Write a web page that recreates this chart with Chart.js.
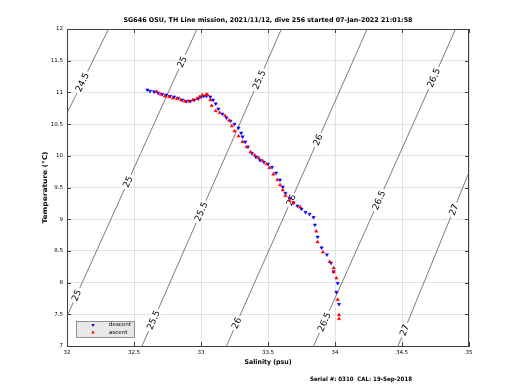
<!DOCTYPE html>
<html><head><meta charset="utf-8">
<script src="https://cdn.jsdelivr.net/npm/chart.js@4.4.0/dist/chart.umd.min.js"></script>
<style>html,body{margin:0;padding:0;background:#fff}#c{display:block}</style>
</head><body>
<canvas id="c" width="520" height="390"></canvas>
<script>
const titleText = "SG646 OSU, TH Line mission, 2021/11/12, dive 256 started 07-Jan-2022 21:01:58";
const xLabel = "Salinity (psu)";
const yLabel = "Temperature (°C)";
const footerText = "Serial #: 0310  CAL: 19-Sep-2018";
const legendLabels = ["descent", "ascent"];
const xTicks = [32, 32.5, 33, 33.5, 34, 34.5, 35];
const yTicks = [7, 7.5, 8, 8.5, 9, 9.5, 10, 10.5, 11, 11.5, 12];

const descentS = [32.60,32.62,32.65,32.68,32.71,32.74,32.77,32.80,32.83,32.86,32.89,32.92,32.95,32.98,33.00,33.02,33.04,33.07,33.09,33.11,33.13,33.16,33.19,33.22,33.25,33.28,33.30,33.31,33.33,33.35,33.38,33.41,33.44,33.47,33.50,33.53,33.56,33.59,33.61,33.63,33.66,33.69,33.72,33.75,33.78,33.81,33.84,33.85,33.87,33.90,33.94,33.97,33.99,34.02,34.01,34.03];
const descentT = [11.04,11.02,11.01,10.99,10.97,10.96,10.94,10.93,10.91,10.88,10.86,10.86,10.88,10.90,10.93,10.94,10.94,10.93,10.88,10.82,10.74,10.66,10.60,10.55,10.50,10.44,10.36,10.30,10.22,10.14,10.04,9.98,9.93,9.90,9.87,9.82,9.73,9.62,9.51,9.41,9.33,9.26,9.21,9.16,9.11,9.08,9.03,8.91,8.72,8.55,8.44,8.31,8.17,7.99,7.85,7.66];

const ascentS = [32.67,32.70,32.73,32.76,32.79,32.82,32.85,32.88,32.91,32.94,32.97,32.99,33.01,33.04,33.05,33.07,33.08,33.11,33.14,33.18,33.21,33.23,33.25,33.28,33.31,33.34,33.37,33.40,33.43,33.46,33.49,33.51,33.54,33.57,33.59,33.61,33.63,33.66,33.69,33.74,33.86,33.87,33.91,33.96,33.99,33.99,34.01,34.02,34.03,34.03];
const ascentT = [11.01,10.97,10.94,10.93,10.91,10.90,10.88,10.86,10.86,10.88,10.90,10.93,10.96,10.97,10.96,10.88,10.79,10.71,10.68,10.63,10.56,10.47,10.39,10.31,10.22,10.14,10.06,10.01,9.97,9.92,9.87,9.81,9.71,9.62,9.54,9.46,9.37,9.30,9.26,9.19,8.81,8.64,8.48,8.33,8.23,8.17,8.07,7.73,7.49,7.43];

const contourLevels = ["24.5", "25", "25.5", "26", "26.5", "27"];
const contourS = [[32.00, 32.31], [32.00, 32.97], [32.56, 33.60], [33.19, 34.24], [33.84, 34.90], [34.47, 35.00]];
const contourT = [[10.67, 12.00], [7.47, 12.00], [7.00, 12.00], [7.00, 12.00], [7.00, 12.00], [7.00, 9.74]];
const contourLabelT = [[11.16], [11.48, 9.59, 7.80], [11.20, 9.12, 7.41], [10.25, 9.30, 7.36], [11.23, 9.30, 7.38], [9.15, 7.25]];

const FONT = "DejaVu Sans";
const zip = (a, b) => a.map((v, i) => ({x: v, y: b[i]}));

const datasets = [
  {label: 'ascent', data: zip(ascentS, ascentT), showLine: false, pointStyle: 'triangle', rotation: 0,
   pointRadius: 1.9, backgroundColor: '#ff0000', borderColor: '#ff0000', borderWidth: 0.5, order: 0},
  {label: 'descent', data: zip(descentS, descentT), showLine: false, pointStyle: 'triangle', rotation: 180,
   pointRadius: 1.9, backgroundColor: '#0000ff', borderColor: '#0000ff', borderWidth: 0.5, order: 1}
];
contourLevels.forEach((lvl, i) => {
  datasets.push({label: 'c' + lvl, data: zip(contourS[i], contourT[i]), showLine: true, pointRadius: 0,
    borderColor: '#444444', borderWidth: 0.7, fill: false, order: 2});
});

function drawContourLabels(chart) {
  const ctx = chart.ctx, xs = chart.scales.x, ys = chart.scales.y;
  ctx.save();
  ctx.font = "9px " + FONT;
  ctx.textAlign = 'center'; ctx.textBaseline = 'middle';
  contourLevels.forEach((lvl, i) => {
    const [s0, s1] = contourS[i], [t0, t1] = contourT[i];
    const px0 = xs.getPixelForValue(s0), py0 = ys.getPixelForValue(t0);
    const px1 = xs.getPixelForValue(s1), py1 = ys.getPixelForValue(t1);
    const ang = Math.atan2(py1 - py0, px1 - px0);
    contourLabelT[i].forEach(t => {
      const s = s0 + (s1 - s0) * (t - t0) / (t1 - t0);
      const px = xs.getPixelForValue(s), py = ys.getPixelForValue(t);
      ctx.save();
      ctx.translate(px, py); ctx.rotate(ang);
      const w = ctx.measureText(lvl).width;
      ctx.fillStyle = '#fff';
      ctx.fillRect(-w / 2 - 2, -4, w + 4, 8);
      ctx.fillStyle = '#000';
      ctx.fillText(lvl, 0, 0.5);
      ctx.restore();
    });
  });
  ctx.restore();
}

function fitText(ctx, text, cx, cy, targetW) {
  const w = ctx.measureText(text).width;
  const sx = targetW / w;
  ctx.save();
  ctx.translate(cx, cy); ctx.scale(sx, 1);
  ctx.fillText(text, 0, 0);
  ctx.restore();
}

function tri(ctx, x, y, r, down, color) {
  ctx.save();
  ctx.translate(x, y); if (down) ctx.rotate(Math.PI);
  ctx.beginPath();
  ctx.moveTo(0, -r); ctx.lineTo(r * 0.87, r * 0.5); ctx.lineTo(-r * 0.87, r * 0.5); ctx.closePath();
  ctx.fillStyle = color; ctx.fill();
  ctx.restore();
}

const deco = {
  id: 'deco',
  beforeDatasetDraw(chart, args) {
    if (chart.data.datasets[args.index].label === 'descent') drawContourLabels(chart);
  },
  afterDraw(chart) {
    const ctx = chart.ctx, a = chart.chartArea, xs = chart.scales.x, ys = chart.scales.y;
    ctx.save();
    ctx.strokeStyle = '#404040'; ctx.lineWidth = 1;
    ctx.strokeRect(a.left + 0.5, a.top + 0.5, a.right - a.left - 1, a.bottom - a.top);
    ctx.beginPath();
    xTicks.forEach(v => {
      const p = Math.round(xs.getPixelForValue(v)) + 0.5;
      ctx.moveTo(p, a.bottom); ctx.lineTo(p, a.bottom - 4);
      ctx.moveTo(p, a.top); ctx.lineTo(p, a.top + 4);
    });
    yTicks.forEach(v => {
      const p = Math.round(ys.getPixelForValue(v)) + 0.5;
      ctx.moveTo(a.left, p); ctx.lineTo(a.left + 4, p);
      ctx.moveTo(a.right, p); ctx.lineTo(a.right - 4, p);
    });
    ctx.stroke();
    ctx.fillStyle = '#000';
    ctx.textAlign = 'center'; ctx.textBaseline = 'middle';
    ctx.font = "bold 6.5px " + FONT;
    fitText(ctx, titleText, (a.left + a.right) / 2, 20, 289);
    fitText(ctx, xLabel, (a.left + a.right) / 2, 362, 47);
    ctx.save();
    ctx.translate(45, (a.top + a.bottom) / 2); ctx.rotate(-Math.PI / 2);
    fitText(ctx, yLabel, 0, 0, 72);
    ctx.restore();
    ctx.font = "bold 6px " + FONT;
    fitText(ctx, footerText, 361, 379, 102);
    const lx = a.left + 9, ly = a.bottom - 25, lw = 58, lh = 16;
    ctx.fillStyle = '#e8e8e8';
    ctx.fillRect(lx, ly, lw, lh);
    ctx.strokeStyle = '#7a7a7a'; ctx.lineWidth = 0.8;
    ctx.strokeRect(lx + 0.5, ly + 0.5, lw, lh);
    tri(ctx, lx + 17, ly + 4, 2, true, '#0000ff');
    tri(ctx, lx + 17, ly + 11.5, 2, false, '#ff0000');
    ctx.fillStyle = '#000'; ctx.textAlign = 'left';
    ctx.font = "5.5px " + FONT;
    ctx.fillText(legendLabels[0], lx + 33, ly + 4);
    ctx.fillText(legendLabels[1], lx + 33, ly + 11.5);
    ctx.restore();
  }
};

new Chart(document.getElementById('c'), {
  type: 'scatter',
  data: {datasets},
  options: {
    responsive: false, animation: false, devicePixelRatio: 1,
    layout: {padding: {left: 0, right: 51, top: 29, bottom: 0}},
    plugins: {legend: {display: false}, tooltip: {enabled: false}, title: {display: false}},
    scales: {
      x: {type: 'linear', min: 32, max: 35,
        afterBuildTicks: s => { s.ticks = xTicks.map(v => ({value: v})); },
        afterFit: s => { s.height = 44; },
        ticks: {color: '#000', font: {family: FONT, size: 5.5}, padding: 3, callback: v => String(v), maxRotation: 0, autoSkip: false},
        grid: {color: '#e2e2e2', lineWidth: 1, drawTicks: false},
        border: {color: '#404040', width: 1}
      },
      y: {type: 'linear', min: 7, max: 12,
        afterBuildTicks: s => { s.ticks = yTicks.map(v => ({value: v})); },
        afterFit: s => { s.width = 67; },
        ticks: {color: '#000', font: {family: FONT, size: 5.5}, padding: 4, callback: v => String(v), autoSkip: false},
        grid: {color: '#e2e2e2', lineWidth: 1, drawTicks: false},
        border: {color: '#404040', width: 1}
      }
    }
  },
  plugins: [deco]
});
</script>
</body></html>
